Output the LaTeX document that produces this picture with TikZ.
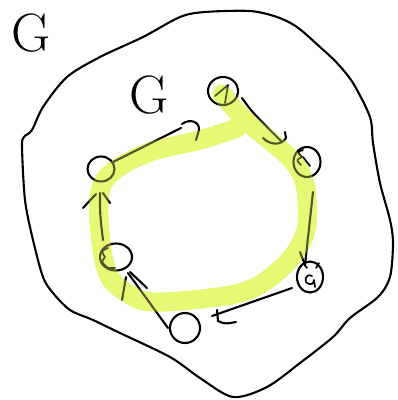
\documentclass[tikz,border=0pt]{standalone}
\usetikzlibrary{shapes.geometric}
\definecolor{hl}{RGB}{231,248,116}
\begin{document}
\begin{tikzpicture}[x=1pt,y=-1pt,
  pen/.style={line width=2.1pt, line cap=round, line join=round, black},
  thin pen/.style={line width=1.7pt, line cap=round, line join=round, black},
  vtx/.style={draw, ellipse, line width=2.1pt, inner sep=0pt},
  glabel/.style={inner sep=0pt, font=\fontsize{54}{54}\selectfont},
  highlight/.style={line width=19pt, line cap=round, line join=round, hl}]
\useasboundingbox (0,0) rectangle (398,400);
% background white
\fill[white] (0,0) rectangle (398,400);
% highlighter path (under)
\def\hlpath{plot[smooth, tension=0.6] coordinates {(237,128) (200,140) (150,152) (114,171) (100,192) (100,233) (108,274) (127,293) (153,302) (210,298) (243,292) (267,280) (292,257) (306,230) (307,200) (303,178) (290,158) (257,130) (240,115) (222,94)}}
\draw[highlight] \hlpath;
% outer region G
\draw[pen] plot[smooth cycle, tension=0.5] coordinates {(205,12) (250,11) (277,17) (297,27) (320,47) (337,63) (353,83) (370,117) (373,143) (380,183) (390,220) (393,243) (390,277) (378,297) (350,318) (333,337) (300,363) (267,387) (233,397) (200,378) (170,357) (120,333) (93,320) (70,310) (53,293) (43,277) (33,240) (25,200) (22,147) (24,137) (32,130) (43,107) (67,77) (100,57) (143,37) (180,17)};
% labels
\node[glabel] (lg) at (31,33) {G};
\node[glabel] (lg2) at (149,95) {G};
% vertices
\node[vtx, minimum width=30pt, minimum height=28pt] (n1) at (223,91) {};
\node[vtx, minimum width=27pt, minimum height=30pt] (n2) at (307,162) {};
\node[vtx, minimum width=26pt, minimum height=31pt] (n3) at (310,277) {};
\node[vtx, minimum width=30pt, minimum height=30pt] (n4) at (185,328) {};
\node[vtx, minimum width=32pt, minimum height=27pt] (n5) at (116,257) {};
\node[vtx, minimum width=27pt, minimum height=25pt] (n6) at (101,169) {};
% scribbles inside vertices
\draw[thin pen] (215,96) -- (228,85) -- (225,103);
\draw[thin pen] (303,150) .. controls (297,152) .. (302,157) .. controls (296,160) .. (301,165);
\draw[thin pen] (303,157) -- (310,166);
\draw[thin pen] (312,276) .. controls (305,272) and (303,284) .. (309,284) .. controls (313,284) .. (314,280) -- (315,287);
\draw[thin pen] (304,264) -- (307,268);
\draw[thin pen] (319,263) -- (316,268);
\draw[thin pen] (108,248) .. controls (101,251) .. (105,257) .. controls (101,262) .. (108,268) -- (115,268);
% connectors
\coordinate (a1s) at (113,162); \coordinate (a1e) at (181,128);
\draw[pen] (a1s) -- (a1e);
\draw[pen] (182,124) .. controls (190,118) and (200,122) .. (199,130) .. controls (198,135) .. (196,140);
\coordinate (a2s) at (242,98); \coordinate (a2e) at (282,142);
\draw[pen] (a2s) .. controls (252,112) .. (a2e);
\draw[pen] (263,138) .. controls (270,145) and (281,146) .. (286,138) -- (285,132);
\coordinate (a3s) at (313,192); \coordinate (a3e) at (305,265);
\draw[pen] (a3s) -- (a3e);
\draw[pen] (300,252) -- (a3e);
\coordinate (a4s) at (292,288); \coordinate (a4e) at (212,316);
\draw[pen] (a4s) -- (a4e);
\draw[pen] (217,310) -- (218,321) .. controls (225,324) .. (236,322);
\coordinate (a5s) at (168,328); \coordinate (a5e) at (128,273);
\draw[pen] (a5s) -- (a5e);
\draw[pen] (122,300) -- (126,277);
\draw[pen] (130,272) -- (147,288);
\coordinate (a6s) at (103,240); \coordinate (a6e) at (100,193);
\draw[pen] (a6s) .. controls (100,215) .. (a6e);
\draw[pen] (83,208) -- (96,194);
\draw[pen] (103,193) -- (110,203);
% highlighter tint over the pen strokes
\draw[highlight, opacity=0.35] \hlpath;
\end{tikzpicture}
\end{document}
